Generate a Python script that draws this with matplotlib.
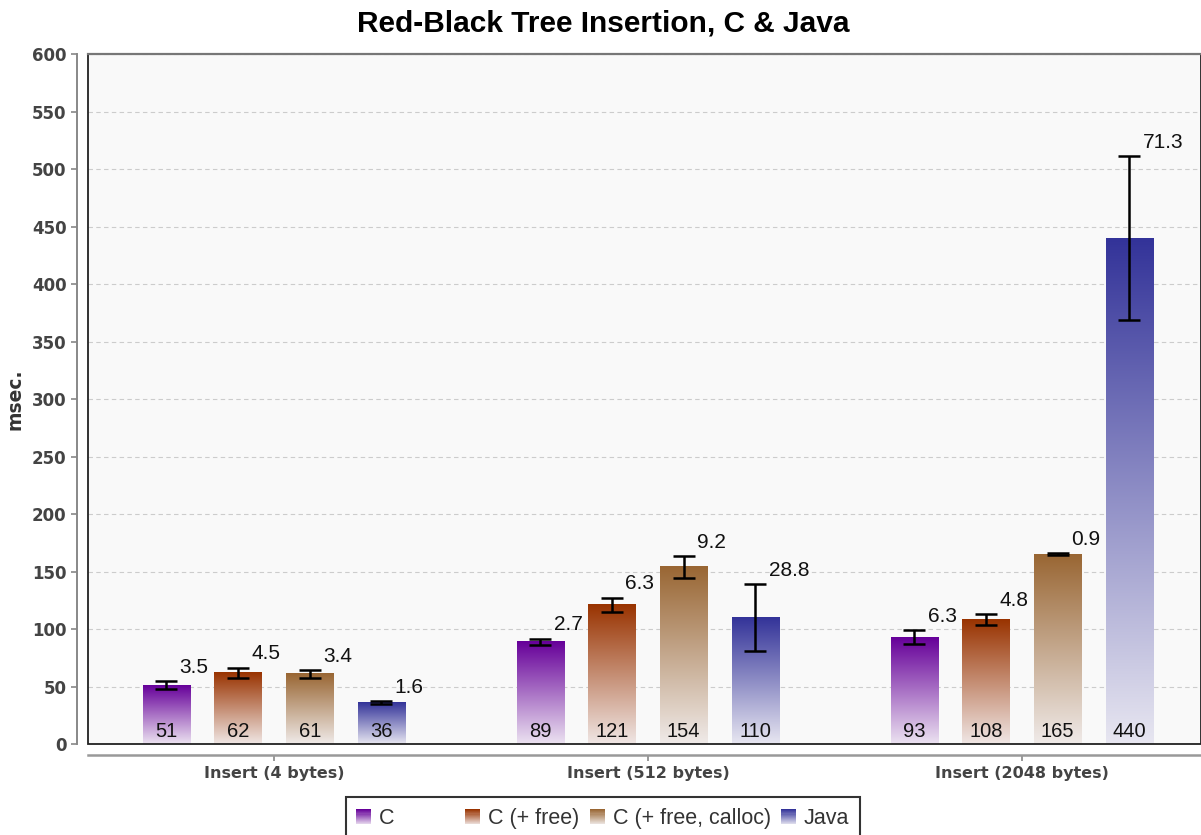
import numpy as np
import matplotlib
matplotlib.use("Agg")
import matplotlib.pyplot as plt
from matplotlib.colors import LinearSegmentedColormap, to_rgb
from matplotlib.patches import Patch, Rectangle
from matplotlib.legend_handler import HandlerBase

groups = ["Insert (4 bytes)", "Insert (512 bytes)", "Insert (2048 bytes)"]
series = ["C", "C (+ free)", "C (+ free, calloc)", "Java"]
colors = ["#660099", "#993300", "#996633", "#333399"]

c_vals = [51, 89, 93]
c_err = [3.5, 2.7, 6.3]
cfree_vals = [62, 121, 108]
cfree_err = [4.5, 6.3, 4.8]
calloc_vals = [61, 154, 165]
calloc_err = [3.4, 9.2, 0.9]
java_vals = [36, 110, 440]
java_err = [1.6, 28.8, 71.3]

values = [c_vals, cfree_vals, calloc_vals, java_vals]
errors = [c_err, cfree_err, calloc_err, java_err]
yticks = list(range(0, 601, 50))

VAL_FONT = ["Liberation Sans", "DejaVu Sans"]


def fade(color, frac):
    # frac 0 -> near white, 1 -> full colour
    c = np.array(to_rgb(color))
    w = np.array([0.97, 0.965, 0.975])
    return tuple(w + (c - w) * frac)


class GradHandler(HandlerBase):
    def create_artists(self, legend, orig_handle, xdescent, ydescent,
                       width, height, fontsize, trans):
        col = orig_handle.get_facecolor()
        n = 14
        arts = []
        for i in range(n):
            r = Rectangle((-xdescent, -ydescent + i * height / n), width, height / n + 0.2,
                          facecolor=fade(col, 0.15 + 0.85 * i / (n - 1)),
                          edgecolor="none", transform=trans)
            arts.append(r)
        return arts


fig = plt.figure(figsize=(12.01, 8.35), dpi=100)
ax = fig.add_axes([0.0733, 0.109, 0.9267, 0.826])
ax.set_facecolor("#f9f9f9")

x = np.arange(len(groups))
width = 0.127
offsets = np.array([-1.5, -0.5, 0.5, 1.5]) * 0.1915

grad = np.linspace(0, 1, 256).reshape(-1, 1)
for k, (vals, errs, col) in enumerate(zip(values, errors, colors)):
    xs = x + offsets[k]
    cmap = LinearSegmentedColormap.from_list("g%d" % k, [fade(col, 0.08), col])
    bars = ax.bar(xs, vals, width, color="none", edgecolor="none", zorder=3)
    for b in bars:
        bx, by = b.get_x(), b.get_y()
        ax.imshow(grad, cmap=cmap, origin="lower", aspect="auto",
                  extent=(bx, bx + b.get_width(), by, by + b.get_height()),
                  zorder=3, interpolation="bilinear")
    ax.errorbar(xs, vals, yerr=errs, fmt="none", ecolor="black",
                elinewidth=1.8, capsize=8, capthick=1.8, zorder=5)
    for xi, v, e in zip(xs, vals, errs):
        ax.annotate("%d" % v, (xi, 0), xytext=(0, 2), textcoords="offset points",
                    ha="center", va="bottom", fontsize=14.5, family=VAL_FONT,
                    color="#111111", zorder=6)
        ax.annotate("%.1f" % e, (xi, v + e), xytext=(9.5, 3), textcoords="offset points",
                    ha="left", va="bottom", fontsize=15, family=VAL_FONT,
                    color="#111111", zorder=6)

ax.set_xlim(-0.497, 2.479)
ax.set_ylim(0, 600)
ax.set_yticks(yticks)
ax.set_xticks(x)
ax.set_xticklabels(groups)

ax.yaxis.grid(True, color="#cccccc", linestyle=(0, (4, 3)), linewidth=0.8, zorder=0)
ax.set_axisbelow(True)

for s in ["top", "right"]:
    ax.spines[s].set_visible(False)
ax.spines["left"].set_position(("outward", 8))
ax.spines["bottom"].set_position(("outward", 8))
ax.spines["left"].set_color("#888888")
ax.spines["bottom"].set_color("#999999")
ax.spines["left"].set_linewidth(1.4)
ax.spines["bottom"].set_linewidth(1.8)

ax.add_patch(Rectangle((0, 0), 1, 1, transform=ax.transAxes, fill=False,
                       edgecolor="#222222", linewidth=1.3, clip_on=False, zorder=7))
ax.plot([0, 1], [1, 1], transform=ax.transAxes, color="#777777", lw=1.6,
        clip_on=False, zorder=8)

ax.tick_params(axis="both", colors="#888888", length=4, width=1.2,
               labelcolor="#444444", labelsize=11.5)
ax.tick_params(axis="y", labelsize=12)
ax.tick_params(axis="x", pad=4)
for lab in ax.get_xticklabels() + ax.get_yticklabels():
    lab.set_fontweight("bold")

ax.set_ylabel("msec.", fontsize=13.5, fontweight="bold", color="#333333", labelpad=5)
fig.text(0.502, 0.972, "Red-Black Tree Insertion, C & Java", fontsize=21.5,
         fontweight="bold", family=VAL_FONT, ha="center", va="center")

handles = [Patch(facecolor=c) for c in colors]
labels = ["C" + " " * 10, "C (+ free)", "C (+ free, calloc)", "Java"]
leg = fig.legend(handles, labels, loc="upper center", bbox_to_anchor=(0.502, 0.045),
                 ncol=4, frameon=True, fancybox=False, edgecolor="black",
                 prop={"family": VAL_FONT, "size": 15.5}, handlelength=0.7,
                 handleheight=0.7, handletextpad=0.35, columnspacing=0.5,
                 borderpad=0.5, borderaxespad=0, handler_map={Patch: GradHandler()})
leg.get_frame().set_linewidth(1.5)
for t in leg.get_texts():
    t.set_color("#333333")

fig.savefig("out.png", dpi=100)
